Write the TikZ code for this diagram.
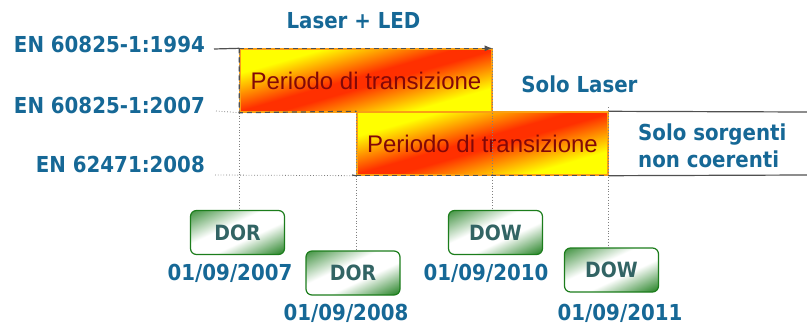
\documentclass[tikz,border=0pt]{standalone}
\usepackage{fontspec}
\setmainfont{Liberation Sans}
\newfontfamily\labelfont{DejaVu Sans Condensed Bold}
\usetikzlibrary{arrows.meta,positioning,calc}

\definecolor{stdblue}{RGB}{22,104,150}
\definecolor{trred}{RGB}{255,48,0}
\definecolor{tryellow}{RGB}{255,255,0}
\definecolor{trtext}{RGB}{130,8,8}
\definecolor{trborder}{RGB}{250,160,20}
\definecolor{dgreen}{RGB}{28,125,28}
\definecolor{dtext}{RGB}{50,100,100}
\definecolor{lgray}{RGB}{80,80,80}

\pgfdeclareverticalshading{transiz}{100bp}{color(0bp)=(tryellow); color(35bp)=(tryellow);
	color(48bp)=(trred); color(52bp)=(trred); color(65bp)=(tryellow); color(100bp)=(tryellow)}
\pgfdeclareverticalshading{datebox}{100bp}{color(0bp)=(dgreen); color(25bp)=(dgreen);
	color(44bp)=(white); color(56bp)=(white); color(75bp)=(dgreen!85!white); color(100bp)=(dgreen!85!white)}

\tikzset{transbox/.style={draw=trborder, line width=1.4pt, inner sep=0pt, text=trtext,
		font=\fontsize{24}{28}\selectfont,
		path picture={\shade[shading=transiz, transform canvas={rotate around={16:(path picture bounding box.center)}}]
			($(path picture bounding box.center)+(-140,-70)$) rectangle ($(path picture bounding box.center)+(140,70)$);}}}
\tikzset{datetag/.style={draw=dgreen, line width=1.2pt, rounded corners=6pt,
		minimum width=94pt, minimum height=44pt, inner sep=0pt,
		text=dtext, font=\labelfont\fontsize{21}{24}\selectfont,
		path picture={\shade[shading=datebox, transform canvas={rotate around={25:(path picture bounding box.center)}}]
			($(path picture bounding box.center)+(-55,-40)$) rectangle ($(path picture bounding box.center)+(55,40)$);}}}
\tikzset{stdlabel/.style={inner sep=0pt, text=stdblue, font=\labelfont\fontsize{22}{27}\selectfont}}
\tikzset{guide/.style={draw=gray, line width=0.8pt, dotted}}
\tikzset{limit/.style={draw=lgray, line width=1.2pt, dash pattern=on 5pt off 4pt}}
\tikzset{stdline/.style={draw=lgray, line width=1.2pt}}

\begin{document}
\begin{tikzpicture}[x=1pt, y=-1pt]
	\useasboundingbox (0,0) rectangle (807,327);
	
	% periodi di transizione
	\node[transbox, minimum width=252pt, minimum height=63pt] (trans1) at (366,80.5) {Periodo di transizione};
	\node[transbox, minimum width=251pt, minimum height=63pt] (trans2) at (482.5,143.5) {Periodo di transizione};
	
	% norme
	\node[stdlabel, anchor=base east] (en1994) at (205,52) {EN 60825-1:1994};
	\node[stdlabel, anchor=base east] (en2007) at (205,113) {EN 60825-1:2007};
	\node[stdlabel, anchor=base east] (en2008) at (205,172) {EN 62471:2008};
	
	\node[stdlabel, anchor=base] (laserled) at (353.5,28) {Laser + LED};
	\node[stdlabel, anchor=base] (sololaser) at (579.5,92) {Solo Laser};
	\node[stdlabel, anchor=west, align=left] (solonc) at (638,145.5) {Solo sorgenti\\non coerenti};
	
	% date
	\node[datetag] (dor1) at (237.5,232.5) {DOR};
	\node[datetag] (dor2) at (353,273) {DOR};
	\node[datetag] (dow1) at (495.5,232.5) {DOW};
	\node[datetag] (dow2) at (611.5,270) {DOW};
	
	\node[stdlabel, anchor=base] (d2007) at (230,280) {01/09/2007};
	\node[stdlabel, anchor=base] (d2008) at (346,320) {01/09/2008};
	\node[stdlabel, anchor=base] (d2010) at (486,280) {01/09/2010};
	\node[stdlabel, anchor=base] (d2011) at (620,320) {01/09/2011};
	
	% linee guida
	\draw[guide] (216,111) -- (trans1.south west);
	\draw[guide] (215,175) -- (trans2.south west);
	\draw[guide] (trans1.north west) -- (trans1.north west |- dor1.north);
	\draw[guide] (trans2.north west) -- (trans2.north west |- dor2.north);
	\draw[guide] (trans1.north east) -- (trans1.north east |- dow1.north);
	\draw[guide] ([yshift=4pt]trans2.north east) -- (trans2.north east |- dow2.north);
	
	% validita delle norme
	\draw[stdline] (214,49) -- (trans1.north west);
	\draw[limit, -{Latex[length=8pt,width=6pt]}] (trans1.north west) -- (trans1.north east);
	\draw[limit] (trans1.north west) -- (trans1.south west) -- (trans2.north west);
	\draw[stdline] (352,175) -- (trans2.south west);
	\draw[limit] (trans2.south west) -- (trans2.south east);
	\draw[stdline] (trans2.north east) -- (807,112);
	\draw[stdline] (trans2.south east) -- (807,175);
	
\end{tikzpicture}
\end{document}
